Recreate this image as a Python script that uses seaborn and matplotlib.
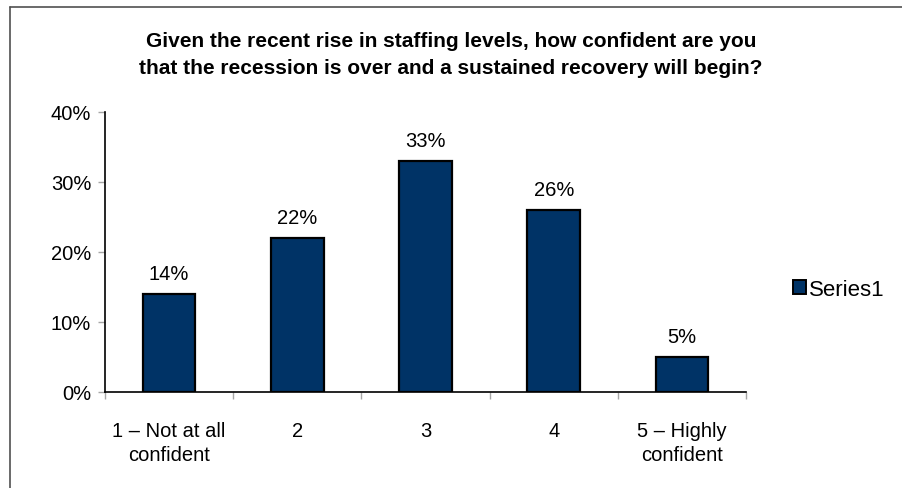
import matplotlib
matplotlib.use("Agg")
import matplotlib.pyplot as plt
from matplotlib.lines import Line2D
from matplotlib.patches import Patch
import seaborn as sns
import pandas as pd

categories = ["1 \u2013 Not at all\nconfident", "2", "3", "4", "5 \u2013 Highly\nconfident"]
values = [14, 22, 33, 26, 5]
y_ticks = [0, 10, 20, 30, 40]
series_name = "Series1"
title = ("Given the recent rise in staffing levels, how confident are you\n"
         "that the recession is over and a sustained recovery will begin?")

sns.set_theme(style="white")
plt.rcParams["font.family"] = ["Liberation Sans", "DejaVu Sans"]
plt.rcParams["text.color"] = "black"

bar_color = "#003366"
tick_gray = "#a6a6a6"
label_size = 14.5

df = pd.DataFrame({"category": categories, "value": values})

W, H = 903, 489
fig = plt.figure(figsize=(W / 100, H / 100), dpi=100)
ax = fig.add_axes([105 / W, 1 - 393 / H, (746 - 105) / W, (393 - 113) / H])

sns.barplot(data=df, x="category", y="value", color=bar_color, width=0.41,
            edgecolor="black", linewidth=1.6, saturation=1, ax=ax)

ax.set_ylim(0, 40)
ax.set_xlim(-0.5, len(categories) - 0.5)
ax.set_yticks(y_ticks)
ax.set_yticklabels([f"{t}%" for t in y_ticks], fontsize=label_size, color="black")
ax.set_xlabel("")
ax.set_ylabel("")

# category labels centred, tick marks on category boundaries
ax.set_xticks(range(len(categories)))
ax.set_xticklabels(categories, fontsize=label_size, color="black", linespacing=1.35)
ax.set_xticks([i - 0.5 for i in range(len(categories) + 1)], minor=True)
ax.tick_params(axis="x", which="major", length=0, pad=21)
ax.tick_params(axis="x", which="minor", length=5, width=1, color=tick_gray,
               direction="out", bottom=True)
ax.tick_params(axis="y", which="major", length=5, width=1, color=tick_gray,
               direction="out", left=True, pad=5)

for side in ["top", "right"]:
    ax.spines[side].set_visible(False)
for side in ["left", "bottom"]:
    ax.spines[side].set_color("black")
    ax.spines[side].set_linewidth(1.2)

for i, v in enumerate(values):
    ax.annotate(f"{v}%", (i, v), xytext=(0, 8), textcoords="offset points",
                ha="center", va="bottom", fontsize=label_size, color="black")

fig.text(451 / W, 1 - 55 / H, title, ha="center", va="center", color="black",
         fontsize=15, fontweight="bold", linespacing=1.5)

handle = Patch(facecolor=bar_color, edgecolor="black", linewidth=1.4)
fig.legend([handle], [series_name], loc="center left",
           bbox_to_anchor=(782 / W, 1 - 290 / H), frameon=False,
           fontsize=16, handlelength=0.6, handleheight=0.6,
           handletextpad=0.1, borderpad=0)

# outer frame: top and left edges
fig.add_artist(Line2D([10 / W, 1], [1 - 8 / H, 1 - 8 / H],
                      transform=fig.transFigure, color="#505050", lw=1.2))
fig.add_artist(Line2D([10 / W, 10 / W], [0, 1 - 8 / H],
                      transform=fig.transFigure, color="#505050", lw=1.2))

fig.savefig("out.png", dpi=100)
